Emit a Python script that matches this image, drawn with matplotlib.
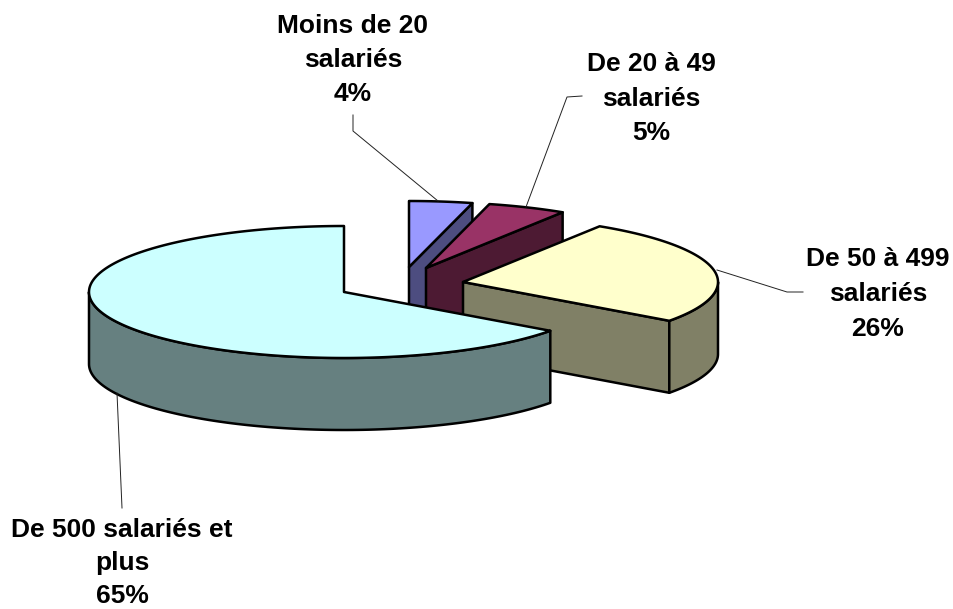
import numpy as np
import matplotlib
matplotlib.use("Agg")
import matplotlib.pyplot as plt
from matplotlib.patches import Polygon

# Values of the pie
labels = [["Moins de 20", "salariés"], ["De 20 à 49", "salariés"], ["De 50 à 499", "salariés"], ["De 500 salariés et", "plus"]]
shares = [4, 5, 26, 65]

# Colors for the top and for the side of each slice
colorsTop = ["#9999FF", "#993366", "#FFFFCC", "#CCFFFF"]
colorsSide = ["#4D4D80", "#4D1A33", "#808066", "#668080"]

# Layout in pixels: tip of each exploded slice, ellipse radii, depth
apexX = [409, 426, 463, 344]
apexY = [267, 268, 282, 292]
radiusX = 255
radiusY = 66
depth = 72

# Leader lines and label anchors (baseline of first line) in pixels
leaders = [[(438, 201), (353, 131), (353, 115)], [(526, 207), (567, 97), (582, 96)],
           [(717, 270), (787, 292), (803, 292)], [(117, 393), (122, 508)]]
labelX = [353, 651, 878, 122]
labelY = [33, 71, 266, 537]
labelStep = [34, 34.7, 35, 33]

plt.rcParams.update({"font.family": "Liberation Sans", "font.weight": "bold", "font.size": 19})


# Point on the ellipse, angle in degrees clockwise from 12 o'clock
def rim(cx, cy, angle):
    a = np.radians(angle)
    return cx + radiusX * np.sin(a), cy - radiusY * np.cos(a)


fig = plt.figure(figsize=(9.54, 6.09), dpi=100)
ax = fig.add_axes([0, 0, 1, 1])
ax.set_xlim(0, 954)
ax.set_ylim(609, 0)
ax.axis("off")

edges = np.cumsum([0] + shares) / sum(shares) * 360
style = {"edgecolor": "black", "linewidth": 1.8, "joinstyle": "round"}

for i in range(len(shares)):
    start, end = edges[i], edges[i + 1]
    cx, cy = apexX[i], apexY[i]
    # Cut wall on the closing side, only seen when it faces the viewer
    if end < 180:
        ex, ey = rim(cx, cy, end)
        ax.add_patch(Polygon([(cx, cy), (ex, ey), (ex, ey + depth), (cx, cy + depth)], facecolor=colorsSide[i], **style))
    # Outer wall, the front half of the ellipse only
    low, high = max(start, 90), min(end, 270)
    if low < high:
        ang = np.linspace(low, high, 120)
        xs, ys = rim(cx, cy, ang)
        ax.add_patch(Polygon(np.r_[np.c_[xs, ys], np.c_[xs, ys + depth][::-1]], facecolor=colorsSide[i], **style))
    # Top face
    ang = np.linspace(start, end, 240)
    xs, ys = rim(cx, cy, ang)
    ax.add_patch(Polygon(np.r_[[(cx, cy)], np.c_[xs, ys]], facecolor=colorsTop[i], **style))

for i in range(len(shares)):
    ax.plot(*zip(*leaders[i]), color="#222222", linewidth=0.7, solid_joinstyle="miter")
    lines = labels[i] + [f"{shares[i]}%"]
    for j, line in enumerate(lines):
        ax.text(labelX[i], labelY[i] + j * labelStep[i], line, ha="center", va="baseline")

plt.savefig("out.png", dpi=100)
